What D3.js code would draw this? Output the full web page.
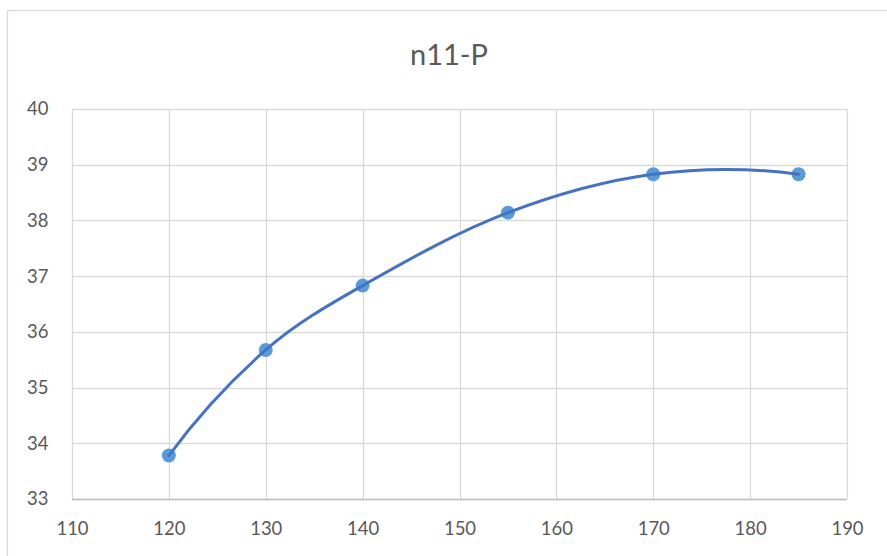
<!DOCTYPE html>
<html>
<head>
<meta charset="utf-8">
<script src="https://cdn.jsdelivr.net/npm/d3@7"></script>
<style>
  html, body { margin: 0; padding: 0; background: #ffffff; }
  svg { display: block; }
  text { font-family: Lato, "Open Sans", "Liberation Sans", sans-serif; fill: #595959; }
</style>
</head>
<body>
<svg id="chart" width="887" height="556"></svg>
<script>
// ---- data ----
const title = "n11-P";
const xValues = [120, 130, 140, 155, 170, 185];
const yValues = [33.78, 35.675, 36.83, 38.14, 38.83, 38.83];
const xTicks = [110, 120, 130, 140, 150, 160, 170, 180, 190];
const yTicks = [33, 34, 35, 36, 37, 38, 39, 40];

// ---- layout ----
const plot = { left: 72, right: 847, top: 109, bottom: 499 };

const svg = d3.select("#chart");

// chart area border (extends beyond the visible window)
svg.append("rect")
  .attr("x", 7.5).attr("y", 10.5)
  .attr("width", 1000).attr("height", 1000)
  .attr("fill", "#ffffff")
  .attr("stroke", "#d9d9d9")
  .attr("stroke-width", 1.3);

const x = d3.scaleLinear().domain([110, 190]).range([plot.left, plot.right]);
const y = d3.scaleLinear().domain([33, 40]).range([plot.bottom, plot.top]);

// gridlines
const grid = svg.append("g");
grid.selectAll("line.v").data(xTicks).join("line")
  .attr("class", "v")
  .attr("x1", d => Math.round(x(d)) + 0.5).attr("x2", d => Math.round(x(d)) + 0.5)
  .attr("y1", plot.top).attr("y2", plot.bottom)
  .attr("stroke", "#d9d9d9").attr("stroke-width", 1.3);
grid.selectAll("line.h").data(yTicks).join("line")
  .attr("class", "h")
  .attr("x1", plot.left).attr("x2", plot.right)
  .attr("y1", d => Math.round(y(d)) + 0.5).attr("y2", d => Math.round(y(d)) + 0.5)
  .attr("stroke", "#d9d9d9").attr("stroke-width", 1.3);

// bottom axis line
svg.append("line")
  .attr("x1", plot.left).attr("x2", plot.right)
  .attr("y1", Math.round(y(33)) + 0.5).attr("y2", Math.round(y(33)) + 0.5)
  .attr("stroke", "#bfbfbf").attr("stroke-width", 1.3);

// axes (labels only)
const xAxis = d3.axisBottom(x).tickValues(xTicks).tickSize(0).tickPadding(0).tickFormat(d3.format("d"));
const gx = svg.append("g").attr("transform", `translate(0, ${plot.bottom + 23})`).call(xAxis);
gx.select(".domain").remove();
gx.selectAll("text").attr("font-size", 18.5).attr("fill", "#595959")
  .style("font-family", "Lato, 'Open Sans', sans-serif");

const yAxis = d3.axisLeft(y).tickValues(yTicks).tickSize(0).tickPadding(0).tickFormat(d3.format("d"));
const gy = svg.append("g").attr("transform", `translate(${plot.left - 23.5}, 0)`).call(yAxis);
gy.select(".domain").remove();
gy.selectAll("text").attr("font-size", 18.5).attr("fill", "#595959")
  .style("font-family", "Lato, 'Open Sans', sans-serif");

// title
svg.append("text")
  .attr("x", 449).attr("y", 65)
  .attr("text-anchor", "middle")
  .style("font-size", "29px")
  .text(title);

// smoothed curve: Bezier segments, tangent parallel to neighbour chord,
// control distance proportional to segment length, mirrored end segments
function smoothCurve(context) {
  const K = 0.34;
  let pts;
  return {
    areaStart() {}, areaEnd() {},
    lineStart() { pts = []; },
    point(px, py) { pts.push([+px, +py]); },
    lineEnd() {
      const n = pts.length;
      if (!n) return;
      context.moveTo(pts[0][0], pts[0][1]);
      if (n === 2) { context.lineTo(pts[1][0], pts[1][1]); return; }
      const U = pts.map((p, i) => {
        if (i === 0 || i === n - 1) return null;
        const tx = pts[i + 1][0] - pts[i - 1][0], ty = pts[i + 1][1] - pts[i - 1][1];
        const l = Math.hypot(tx, ty);
        return [tx / l, ty / l];
      });
      for (let i = 0; i < n - 1; i++) {
        const p0 = pts[i], p1 = pts[i + 1];
        const dx = p1[0] - p0[0], dy = p1[1] - p0[1];
        const L = Math.hypot(dx, dy), ux = dx / L, uy = dy / L;
        const d = K * L;
        let c1 = U[i] ? [p0[0] + U[i][0] * d, p0[1] + U[i][1] * d] : null;
        let c2 = U[i + 1] ? [p1[0] - U[i + 1][0] * d, p1[1] - U[i + 1][1] * d] : null;
        if (!c1 && c2) {
          const vx = c2[0] - p1[0], vy = c2[1] - p1[1];
          const a = vx * ux + vy * uy;
          c1 = [p0[0] - a * ux + (vx - a * ux), p0[1] - a * uy + (vy - a * uy)];
        }
        if (!c2 && c1) {
          const wx = c1[0] - p0[0], wy = c1[1] - p0[1];
          const a = wx * ux + wy * uy;
          c2 = [p1[0] - a * ux + (wx - a * ux), p1[1] - a * uy + (wy - a * uy)];
        }
        context.bezierCurveTo(c1[0], c1[1], c2[0], c2[1], p1[0], p1[1]);
      }
    }
  };
}

const data = xValues.map((v, i) => ({ x: v, y: yValues[i] }));

// markers
svg.append("g").selectAll("circle").data(data).join("circle")
  .attr("cx", d => x(d.x)).attr("cy", d => y(d.y))
  .attr("r", 7)
  .attr("fill", "#5b9bd5");

// line
const line = d3.line().x(d => x(d.x)).y(d => y(d.y)).curve(smoothCurve);
svg.append("path").datum(data)
  .attr("d", line)
  .attr("fill", "none")
  .attr("stroke", "#4472c4")
  .attr("stroke-width", 3)
  .attr("stroke-linecap", "round");
</script>
</body>
</html>
